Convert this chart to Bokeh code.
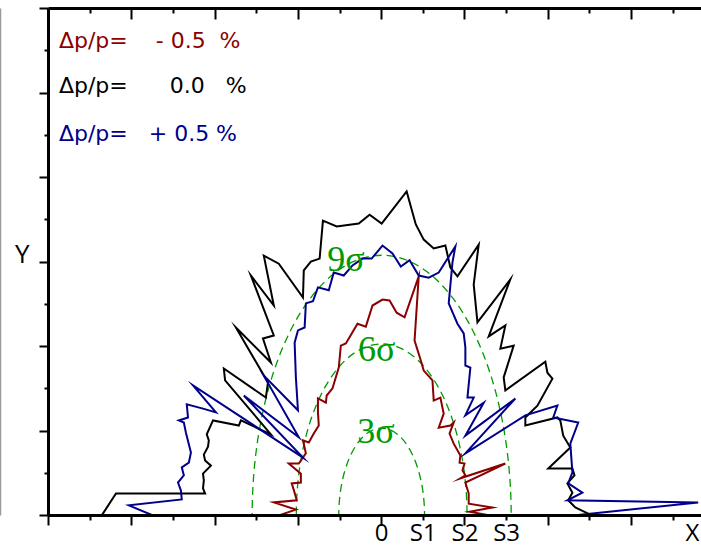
from bokeh.plotting import figure
from bokeh.models import Range1d, LinearAxis, FixedTicker, Label, ColumnDataSource
from bokeh.embed import file_html
from bokeh.resources import INLINE

# ---------------- data ----------------
# horizontal tick labels (beam-size units) and vertical tick label
x_label_pos = [0, 1, 2, 3, 7.46]
x_label_text = ["0", "S1", "S2", "S3", "X"]
y_label_pos = [6.22]
y_label_text = ["Y"]

# sigma contours (half-ellipses) and their labels
sigma_text = ["3σ", "6σ", "9σ"]
sigma_half_w = [1.03, 2.05, 3.11]
sigma_half_h = [2.07, 4.06, 6.16]

# dynamic aperture, dp/p = 0.0 %
dp0_x = [-6.71, -6.38, -4.24, -4.29, -4.27, -4.29, -4.10, -4.24, -4.27, -4.17,
         -4.15, -4.20, -4.05, -3.43, -3.38, -2.66, -3.76, -3.79, -2.78, -2.73,
         -3.50, -2.66, -2.85, -2.59, -3.14, -2.59, -2.83, -2.47, -1.89, -1.87,
         -1.70, -1.49, -1.41, -1.08, -0.55, -0.29, 0.00, 0.60, 0.82, 1.01,
         1.25, 1.53, 1.65, 1.82, 2.33, 2.21, 2.30, 3.09, 2.57, 2.97,
         2.85, 3.17, 2.93, 2.97, 3.93, 3.98, 4.10, 3.74, 3.45, 3.45,
         4.22, 4.29, 4.36, 4.53, 4.00, 4.58, 4.63, 4.46, 4.58, 4.48,
         4.65, 5.01]
dp0_y = [0.02, 0.52, 0.52, 0.64, 0.83, 0.99, 1.18, 1.30, 1.44, 1.63,
         1.78, 1.92, 2.25, 2.13, 2.25, 1.92, 3.20, 3.48, 2.79, 3.15,
         4.45, 3.62, 4.19, 4.26, 5.68, 4.97, 6.15, 5.96, 5.16, 5.80,
         6.01, 6.08, 6.98, 6.84, 6.91, 7.12, 6.91, 7.67, 6.89, 6.53,
         6.32, 6.39, 5.87, 5.66, 6.41, 5.47, 4.57, 5.59, 4.24, 4.50,
         3.95, 4.02, 3.27, 2.96, 3.64, 3.38, 3.24, 2.60, 2.32, 2.13,
         2.32, 2.25, 1.89, 1.61, 1.11, 1.11, 0.95, 0.76, 0.54, 0.36,
         0.19, 0.02]

# dynamic aperture, dp/p = -0.5 %
dpm_x = [-2.47, -2.06, -2.59, -2.04, -2.09, -2.16, -1.94, -1.94, -2.23, -1.99,
         -1.82, -1.89, -1.75, -1.63, -1.51, -1.53, -1.53, -1.34, -1.32, -1.18,
         -1.03, -0.98, -0.86, -0.58, -0.38, -0.22, 0.02, 0.19, 0.36, 0.55,
         0.89, 0.79, 0.94, 1.01, 1.22, 1.25, 1.41, 1.49, 1.37, 1.65,
         1.73, 1.63, 1.73, 1.89, 1.87, 1.99, 1.94, 2.01, 1.89, 2.97,
         2.01, 2.09, 2.09, 2.66, 2.11, 2.61]
dpm_y = [0.00, 0.14, 0.31, 0.36, 0.54, 0.76, 0.78, 0.99, 1.23, 1.23,
         1.47, 1.78, 1.73, 1.94, 2.13, 2.44, 2.77, 2.67, 2.84, 3.01,
         3.50, 4.02, 4.07, 4.54, 4.47, 4.97, 5.11, 5.09, 4.80, 4.69,
         5.66, 4.14, 3.67, 3.43, 3.20, 2.72, 2.79, 2.41, 2.08, 2.13,
         2.20, 1.94, 1.70, 1.42, 1.25, 1.23, 1.07, 0.95, 0.88, 1.23,
         0.78, 0.52, 0.28, 0.19, 0.09, 0.00]

# dynamic aperture, dp/p = +0.5 %
dpp_x = [-5.49, -6.07, -4.80, -4.82, -4.89, -4.75, -4.80, -4.63, -4.58, -4.70,
         -4.75, -4.87, -4.65, -4.68, -4.29, -3.98, -4.53, -1.89, -3.31, -1.99,
         -2.83, -2.01, -2.06, -2.09, -2.01, -1.85, -1.82, -1.65, -1.53, -1.27,
         -1.15, -0.91, -0.70, -0.46, -0.24, 0.02, 0.26, 0.46, 0.67, 0.89,
         1.13, 1.37, 1.77, 1.70, 1.61, 1.82, 1.97, 2.01, 2.01, 2.13,
         2.06, 2.21, 2.01, 2.45, 2.01, 3.21, 2.01, 3.45, 4.22, 4.12,
         4.72, 4.53, 4.58, 4.48, 4.82, 4.46, 7.60, 4.60]
dpp_y = [0.00, 0.24, 0.38, 0.59, 0.78, 0.95, 1.14, 1.25, 1.49, 1.96,
         2.20, 2.25, 2.32, 2.63, 2.53, 2.44, 3.08, 1.37, 2.84, 1.85,
         3.31, 2.49, 3.27, 4.09, 4.38, 4.45, 5.02, 5.07, 5.40, 5.33,
         5.75, 5.68, 5.92, 6.08, 6.08, 6.39, 6.20, 5.89, 6.04, 5.68,
         5.63, 5.75, 6.37, 5.99, 5.02, 4.54, 4.31, 3.98, 3.55, 3.50,
         2.79, 2.79, 2.37, 2.67, 1.89, 2.77, 1.47, 2.37, 2.60, 2.32,
         2.20, 1.70, 1.02, 0.76, 0.54, 0.36, 0.31, 0.00]

NB = "\u00a0"
legend_text = ["Δp/p=" + NB * 4 + "-" + NB + "0.5" + NB * 2 + "%",
               "Δp/p=" + NB * 6 + "0.0" + NB * 3 + "%",
               "Δp/p=" + NB * 3 + "+" + NB + "0.5" + NB + "%"]

# ---------------- styling ----------------
RED = "#8b0000"
BLACK = "#000000"
BLUE = "#00008b"
GREEN = "#009a00"
SANS = "Open Sans"

p = figure(width=701, height=551, output_backend="svg", toolbar_location=None,
           x_range=Range1d(-8, 7.68), y_range=Range1d(0, 12),
           min_border_left=47, min_border_right=0, min_border_top=8,
           min_border_bottom=36)
p.outline_line_color = None
p.grid.visible = False
p.background_fill_color = "white"
p.border_fill_color = "white"

x_major = [-8, -6, -4, -2, 0, 2, 4, 6]
x_minor = [-7, -5, -3, -1, 1, 3, 5, 7]
y_major = [0, 2, 4, 6, 8, 10, 12]
y_minor = [1, 3, 5, 7, 9, 11]


def tick_axis(ax, major, minor, t_out, t_in, m_out, m_in):
    ax.ticker = FixedTicker(ticks=major, minor_ticks=minor)
    ax.axis_line_width = 3
    ax.major_tick_out = t_out
    ax.major_tick_in = t_in
    ax.minor_tick_out = m_out
    ax.minor_tick_in = m_in
    ax.major_tick_line_width = 2
    ax.minor_tick_line_width = 2
    ax.major_label_text_color = None
    ax.major_label_text_font_size = "0px"
    ax.major_label_standoff = 0


# frame axes with ticks only
tick_axis(p.xaxis[0], x_major, x_minor, 10, 0, 5, 0)
tick_axis(p.yaxis[0], y_major, y_minor, 9, 0, 4, 0)
top = LinearAxis()
tick_axis(top, x_major, x_minor, 0, 11, 0, 5)
p.add_layout(top, "above")


def label_axis(pos, txt, size, standoff):
    ax = LinearAxis(ticker=FixedTicker(ticks=pos, minor_ticks=[]),
                    axis_line_color=None, major_tick_line_color=None,
                    minor_tick_line_color=None, major_tick_out=0,
                    major_tick_in=0, minor_tick_out=0, minor_tick_in=0,
                    major_label_overrides=dict(zip(pos, txt)),
                    major_label_text_font=SANS,
                    major_label_text_font_size=size,
                    major_label_text_color="black",
                    major_label_standoff=standoff)
    return ax


p.add_layout(label_axis(x_label_pos, x_label_text, "24px", -11), "below")
# the vertical label is padded on its left so the page edge rule lands at x=0
p.add_layout(label_axis(y_label_pos, [NB + "\u2006" + t for t in y_label_text],
                        "26px", 10), "left")

# thin grey rule along the left page edge
edge = LinearAxis(ticker=FixedTicker(ticks=[], minor_ticks=[]),
                  axis_line_color="#9a9a9a", axis_line_width=1.5,
                  major_tick_line_color=None, minor_tick_line_color=None,
                  major_tick_out=0, major_tick_in=0, minor_tick_out=0,
                  minor_tick_in=0, major_label_text_color=None,
                  major_label_text_font_size="0px", major_label_standoff=0)
p.add_layout(edge, "left")

# sigma contours
src_sig = ColumnDataSource(dict(x=[0, 0, 0], y=[0, 0, 0],
                                w=[2 * a for a in sigma_half_w],
                                h=[2 * b for b in sigma_half_h]))
p.ellipse(x="x", y="y", width="w", height="h", source=src_sig,
          fill_color=None, line_color=GREEN, line_width=1.3, line_dash="8 5")

# apertures
p.line(dp0_x, dp0_y, line_color=BLACK, line_width=2, line_join="miter")
p.line(dpm_x, dpm_y, line_color=RED, line_width=2, line_join="miter")
p.line(dpp_x, dpp_y, line_color=BLUE, line_width=2, line_join="miter")

# sigma labels
sig_pos = [(-0.14, 2.0), (-0.12, 3.95), (-0.86, 6.08)]
for txt, (sx, sy) in zip(sigma_text, sig_pos):
    p.add_layout(Label(x=sx, y=sy, text=txt, text_font="Liberation Serif",
                       text_font_size="36px", text_color=GREEN,
                       text_align="center", text_baseline="middle"))

# legend lines
for txt, col, ly in zip(legend_text, [RED, BLACK, BLUE], [11.24, 10.17, 9.04]):
    p.add_layout(Label(x=-7.75, y=ly, text=txt, text_font="DejaVu Sans",
                       text_font_size="22px", text_color=col,
                       text_align="left", text_baseline="alphabetic"))

open("out.html", "w").write(file_html(p, INLINE))
